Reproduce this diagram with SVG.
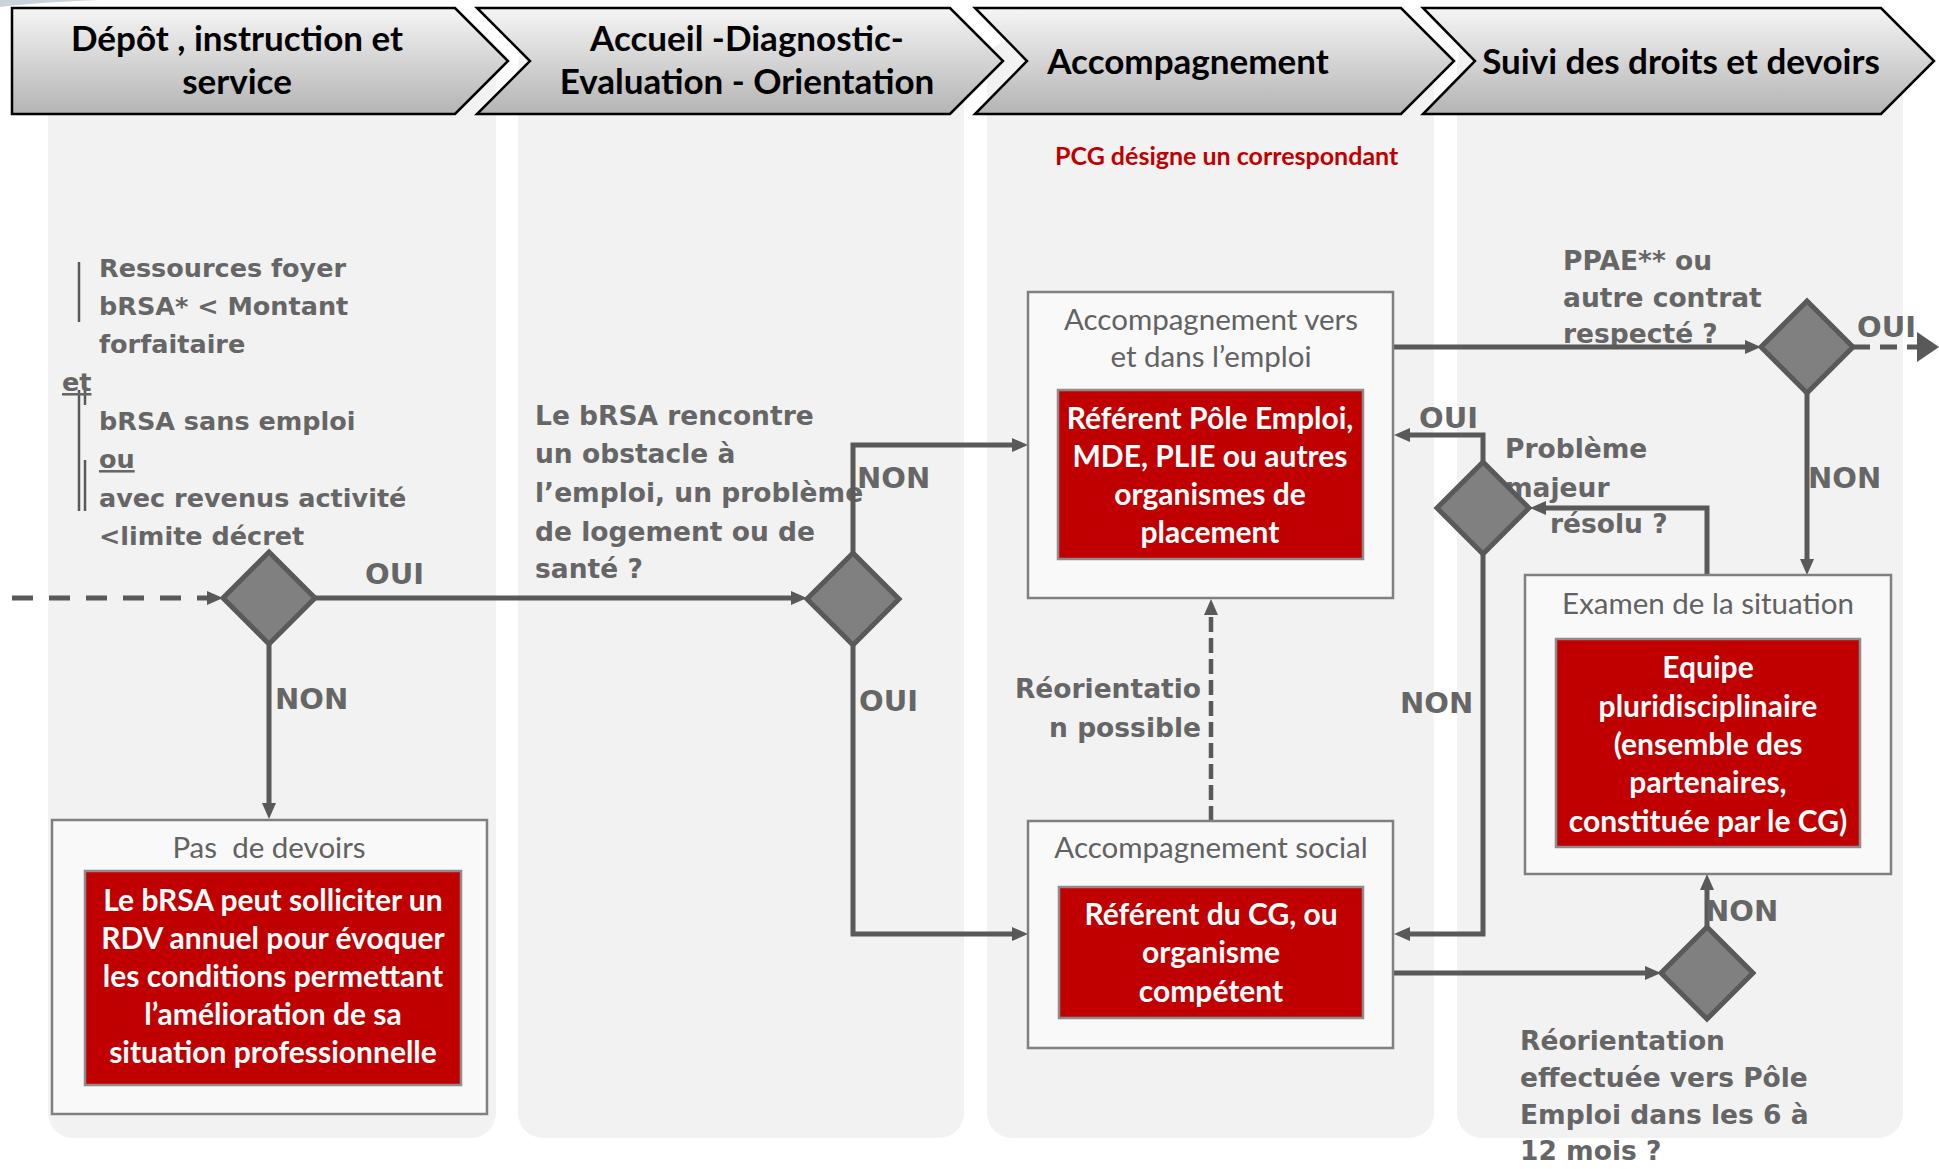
<svg xmlns="http://www.w3.org/2000/svg" width="1939" height="1169" viewBox="0 0 1939 1169">
<defs>
  <linearGradient id="hdrGrad" x1="0" y1="0" x2="0" y2="1">
    <stop offset="0" stop-color="#f5f5f5"/>
    <stop offset="1" stop-color="#b4b4b4"/>
  </linearGradient>
  <marker id="arr" markerUnits="userSpaceOnUse" markerWidth="16" markerHeight="14" refX="6" refY="7" orient="auto">
    <path d="M0,0 L16,7 L0,14 Z" fill="#595959"/>
  </marker>
  <marker id="arrBig" markerUnits="userSpaceOnUse" markerWidth="22" markerHeight="30" refX="0" refY="15" orient="auto">
    <path d="M0,0 L22,15 L0,30 Z" fill="#595959"/>
  </marker>
</defs>
<style>
  .col{fill:#f2f2f2}
  .hdr{fill:url(#hdrGrad);stroke:#000;stroke-width:2.5;stroke-linejoin:miter}
  .ht{font-family:Lato,"Open Sans",sans-serif;font-weight:700;font-size:35px;fill:#000;text-anchor:middle}
  .box{fill:#f9f9f9;stroke:#808080;stroke-width:2.5}
  .red{fill:#c00000;stroke:#8c8c8c;stroke-width:2.5}
  .bt{font-family:Lato,"Open Sans",sans-serif;font-size:29.5px;fill:#626262;text-anchor:middle;white-space:pre}
  .rt{font-family:Lato,"Open Sans",sans-serif;font-weight:700;font-size:30px;fill:#fff;text-anchor:middle}
  .gt{font-family:"DejaVu Sans",sans-serif;font-weight:700;font-size:26.5px;fill:#666}
  .gt1{font-size:25.5px}
  .lb{font-family:"DejaVu Sans",sans-serif;font-weight:700;font-size:29px;fill:#666}
  .dia{fill:#808080;stroke:#595959;stroke-width:5;stroke-linejoin:miter}
  .cn{fill:none;stroke:#595959;stroke-width:5}
  .dash{stroke-dasharray:21 16}
  .bar{stroke:#595959;stroke-width:2.5}
  .pcg{font-family:Lato,"Open Sans",sans-serif;font-weight:700;font-size:25px;fill:#c00000}
</style>

<!-- column backgrounds -->
<g id="columns">
  <rect class="col" x="48" y="40" width="448" height="1098" rx="25"/>
  <rect class="col" x="518" y="40" width="446" height="1098" rx="25"/>
  <rect class="col" x="987" y="40" width="447" height="1098" rx="25"/>
  <rect class="col" x="1457" y="40" width="446" height="1098" rx="25"/>
  <path d="M0,0 H100 Q40,2 0,7 Z" fill="#c9d3da"/>
</g>

<!-- headers -->
<g id="header1">
  <path class="hdr" d="M12,8 H455 L508,61 L455,114 H12 Z"/>
  <text class="ht" x="237" y="51">Dépôt , instruction et</text>
  <text class="ht" x="237" y="94">service</text>
</g>
<g id="header2">
  <path class="hdr" d="M477,8 H950 L1003,61 L950,114 H477 L530,61 Z"/>
  <text class="ht" x="747" y="51">Accueil -Diagnostic-</text>
  <text class="ht" x="747" y="94">Evaluation - Orientation</text>
</g>
<g id="header3">
  <path class="hdr" d="M975,8 H1401 L1454,61 L1401,114 H975 L1027,61 Z"/>
  <text class="ht" x="1188" y="74">Accompagnement</text>
</g>
<g id="header4">
  <path class="hdr" d="M1423,8 H1881 L1934,61 L1881,114 H1423 L1475,61 Z"/>
  <text class="ht" x="1681" y="74">Suivi des droits et devoirs</text>
</g>

<!-- free texts -->
<g id="conditions">
  <line class="bar" x1="79" y1="262" x2="79" y2="322"/>
  <line class="bar" x1="79" y1="390" x2="79" y2="511"/>
  <line class="bar" x1="85" y1="377" x2="85" y2="405"/>
  <line class="bar" x1="85" y1="460" x2="85" y2="511"/>
  <text class="gt gt1" x="99" y="277">Ressources foyer</text>
  <text class="gt gt1" x="99" y="315">bRSA* &lt; Montant</text>
  <text class="gt gt1" x="99" y="353">forfaitaire</text>
  <text class="gt gt1" x="62" y="391" text-decoration="underline">et</text>
  <text class="gt gt1" x="99" y="430">bRSA sans emploi</text>
  <text class="gt gt1" x="99" y="468" text-decoration="underline">ou</text>
  <text class="gt gt1" x="99" y="507">avec revenus activité</text>
  <text class="gt gt1" x="99" y="545">&lt;limite décret</text>
</g>
<g id="question-obstacle">
  <text class="gt" x="535" y="425">Le bRSA rencontre</text>
  <text class="gt" x="535" y="463">un obstacle à</text>
  <text class="gt" x="535" y="502">l’emploi, un problème</text>
  <text class="gt" x="535" y="541">de logement ou de</text>
  <text class="gt" x="535" y="578">santé ?</text>
</g>
<g id="pcg-note">
  <text class="pcg" x="1055" y="165">PCG désigne un correspondant</text>
</g>
<g id="reorientation-possible">
  <text class="gt" x="1201" y="698" text-anchor="end">Réorientatio</text>
  <text class="gt" x="1201" y="737" text-anchor="end">n possible</text>
</g>
<g id="question-ppae">
  <text class="gt" x="1563" y="270">PPAE** ou</text>
  <text class="gt" x="1563" y="307">autre contrat</text>
  <text class="gt" x="1563" y="343">respecté ?</text>
</g>
<g id="question-probleme">
  <text class="gt" x="1505" y="458">Problème</text>
  <text class="gt" x="1505" y="497">majeur</text>
  <text class="gt" x="1550" y="533">résolu ?</text>
</g>
<g id="question-reorientation">
  <text class="gt" x="1520" y="1050">Réorientation</text>
  <text class="gt" x="1520" y="1087">effectuée vers Pôle</text>
  <text class="gt" x="1520" y="1124">Emploi dans les 6 à</text>
  <text class="gt" x="1520" y="1160">12 mois ?</text>
</g>

<!-- connectors -->
<g id="connectors">
  <path class="cn dash" d="M12,598 H213" marker-end="url(#arr)"/>
  <path class="cn" d="M315,598 H797" marker-end="url(#arr)"/>
  <path class="cn" d="M269,644 V809" marker-end="url(#arr)"/>
  <path class="cn" d="M853,553 V445 H1018" marker-end="url(#arr)"/>
  <path class="cn" d="M853,645 V934 H1018" marker-end="url(#arr)"/>
  <path class="cn" d="M1393,347 H1751" marker-end="url(#arr)"/>
  <path class="cn dash" d="M1853,347 H1917" style="stroke-dasharray:17 10" marker-end="url(#arrBig)"/>
  <path class="cn" d="M1807,393 V565" marker-end="url(#arr)"/>
  <path class="cn" d="M1707,575 V508 H1540" marker-end="url(#arr)"/>
  <path class="cn" d="M1483,462 V435 H1404" marker-end="url(#arr)"/>
  <path class="cn" d="M1483,554 V934 H1404" marker-end="url(#arr)"/>
  <path class="cn" d="M1394,973 H1651" marker-end="url(#arr)"/>
  <path class="cn" d="M1707,927 V884" marker-end="url(#arr)"/>
  <path class="cn dash" d="M1211,821 V609" style="stroke-dasharray:15 6;stroke-width:4.5" marker-end="url(#arr)"/>
  <text class="lb" x="365" y="584">OUI</text>
  <text class="lb" x="275" y="709">NON</text>
  <text class="lb" x="857" y="488">NON</text>
  <text class="lb" x="859" y="711">OUI</text>
  <text class="lb" x="1419" y="428">OUI</text>
  <text class="lb" x="1400" y="713">NON</text>
  <text class="lb" x="1857" y="337">OUI</text>
  <text class="lb" x="1808" y="488">NON</text>
  <text class="lb" x="1705" y="921">NON</text>
</g>

<!-- decisions -->
<g id="decision-ressources"><path class="dia" d="M269,552 L315,598 L269,644 L223,598 Z"/></g>
<g id="decision-obstacle"><path class="dia" d="M853,553 L899,599 L853,645 L807,599 Z"/></g>
<g id="decision-ppae"><path class="dia" d="M1807,301 L1853,347 L1807,393 L1761,347 Z"/></g>
<g id="decision-probleme"><path class="dia" d="M1483,462 L1529,508 L1483,554 L1437,508 Z"/></g>
<g id="decision-reorientation"><path class="dia" d="M1707,927 L1753,973 L1707,1019 L1661,973 Z"/></g>

<!-- boxes -->
<g id="box-pas-de-devoirs">
  <rect class="box" x="52" y="820" width="435" height="294"/>
  <text class="bt" x="269" y="858" xml:space="preserve">Pas  de devoirs</text>
  <rect class="red" x="85" y="871" width="376" height="214"/>
  <text class="rt" x="273" y="911">Le bRSA peut solliciter un</text>
  <text class="rt" x="273" y="949">RDV annuel pour évoquer</text>
  <text class="rt" x="273" y="987">les conditions permettant</text>
  <text class="rt" x="273" y="1025">l’amélioration de sa</text>
  <text class="rt" x="273" y="1063">situation professionnelle</text>
</g>
<g id="box-accompagnement-emploi">
  <rect class="box" x="1028" y="292" width="365" height="306"/>
  <text class="bt" x="1211" y="330">Accompagnement vers</text>
  <text class="bt" x="1211" y="367">et dans l’emploi</text>
  <rect class="red" x="1058" y="390" width="305" height="169"/>
  <text class="rt" x="1210" y="429">Référent Pôle Emploi,</text>
  <text class="rt" x="1210" y="467">MDE, PLIE ou autres</text>
  <text class="rt" x="1210" y="505">organismes de</text>
  <text class="rt" x="1210" y="543">placement</text>
</g>
<g id="box-accompagnement-social">
  <rect class="box" x="1028" y="821" width="365" height="227"/>
  <text class="bt" x="1211" y="858">Accompagnement social</text>
  <rect class="red" x="1059" y="887" width="304" height="131"/>
  <text class="rt" x="1211" y="925">Référent du CG, ou</text>
  <text class="rt" x="1211" y="963">organisme</text>
  <text class="rt" x="1211" y="1002">compétent</text>
</g>
<g id="box-examen">
  <rect class="box" x="1525" y="575" width="366" height="299"/>
  <text class="bt" x="1708" y="614">Examen de la situation</text>
  <rect class="red" x="1556" y="639" width="304" height="208"/>
  <text class="rt" x="1708" y="678">Equipe</text>
  <text class="rt" x="1708" y="717">pluridisciplinaire</text>
  <text class="rt" x="1708" y="755">(ensemble des</text>
  <text class="rt" x="1708" y="793">partenaires,</text>
  <text class="rt" x="1708" y="832">constituée par le CG)</text>
</g>
</svg>
